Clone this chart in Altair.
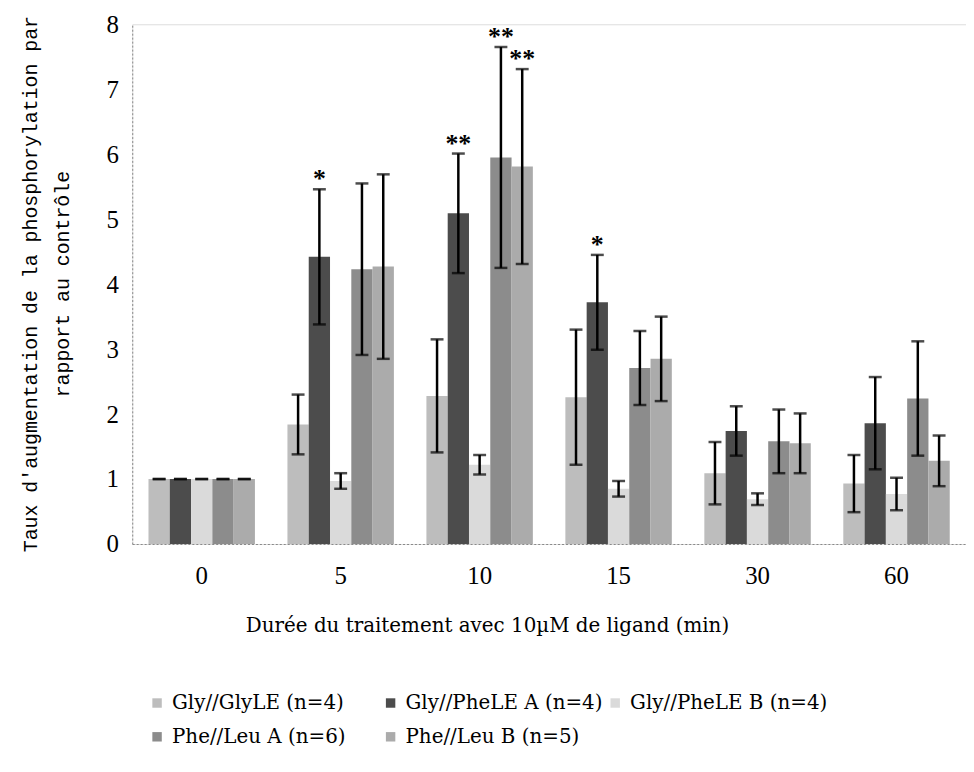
import altair as alt
import pandas as pd

times = ["0", "5", "10", "15", "30", "60"]
series = ["Gly//GlyLE (n=4)", "Gly//PheLE A (n=4)", "Gly//PheLE B (n=4)",
          "Phe//Leu A (n=6)", "Phe//Leu B (n=5)"]
colors = ["#bdbdbd", "#4c4c4c", "#dadada", "#8c8c8c", "#ababab"]

mean_glygly = [1.0, 1.84, 2.28, 2.26, 1.09, 0.93]
mean_phe_a = [1.0, 4.42, 5.09, 3.72, 1.74, 1.86]
mean_phe_b = [1.0, 0.97, 1.22, 0.85, 0.69, 0.77]
mean_leu_a = [1.0, 4.23, 5.95, 2.71, 1.58, 2.24]
mean_leu_b = [1.0, 4.27, 5.81, 2.85, 1.55, 1.28]

sd_glygly = [0.0, 0.46, 0.87, 1.04, 0.48, 0.44]
sd_phe_a = [0.0, 1.04, 0.92, 0.73, 0.38, 0.71]
sd_phe_b = [0.0, 0.12, 0.15, 0.12, 0.09, 0.25]
sd_leu_a = [0.0, 1.32, 1.70, 0.57, 0.49, 0.88]
sd_leu_b = [0.0, 1.42, 1.50, 0.65, 0.46, 0.39]

star_time = ["5", "10", "10", "10", "15"]
star_series = ["Gly//PheLE A (n=4)", "Gly//PheLE A (n=4)", "Phe//Leu A (n=6)",
               "Phe//Leu B (n=5)", "Gly//PheLE A (n=4)"]
star_text = ["*", "**", "**", "**", "*"]

means = [mean_glygly, mean_phe_a, mean_phe_b, mean_leu_a, mean_leu_b]
sds = [sd_glygly, sd_phe_a, sd_phe_b, sd_leu_a, sd_leu_b]

rows = []
for s, m, e in zip(series, means, sds):
    for t, mv, ev in zip(times, m, e):
        rows.append(dict(time=t, series=s, mean=mv, lo=mv - ev, hi=mv + ev))
df = pd.DataFrame(rows)

srows = []
for t, s, txt in zip(star_time, star_series, star_text):
    hi = df[(df.time == t) & (df.series == s)].hi.iloc[0]
    srows.append(dict(time=t, series=s, hi=hi, star=txt))
sdf = pd.DataFrame(srows)

SERIF = "Liberation Serif"
WIDE = "DejaVu Serif"
MONO = "Liberation Mono"

xenc = alt.X("time:N", scale=alt.Scale(domain=times, paddingInner=0.234, paddingOuter=0.117),
             axis=alt.Axis(title="Durée du traitement avec 10µM de ligand (min)",
                           labelAngle=0, labelFont=SERIF, labelFontSize=25, labelColor="black",
                           labelPadding=20, ticks=False, domainDash=[2, 2], domainColor="#888",
                           titleFont=WIDE, titleFontSize=20, titleFontWeight="normal",
                           titleColor="black", titleX=357, titleY=82, titleAlign="center",
                           titleBaseline="middle"))
xoff = alt.XOffset("series:N", scale=alt.Scale(domain=series, paddingInner=0, paddingOuter=0))
yscale = alt.Scale(domain=[0, 8], nice=False)

pad_expr = ("indexof(['Gly//GlyLE (n=4)', 'Phe//Leu A (n=6)'], datum.value) >= 0 "
            "? datum.label + '\u2003\u00a0\u00a0\u200b' : datum.label")

bars = alt.Chart(df).mark_bar().encode(
    x=xenc,
    xOffset=xoff,
    y=alt.Y("mean:Q", scale=yscale,
            axis=alt.Axis(title=["Taux d'augmentation de la phosphorylation par", "rapport au contrôle"],
                          values=list(range(9)), format="d", grid=False, ticks=False, labelPadding=14,
                          labelFont=SERIF, labelFontSize=25, labelColor="black",
                          domainDash=[2, 2], domainColor="#888",
                          titleFont=MONO, titleFontSize=20, titleFontWeight="normal",
                          titleColor="black", titleAngle=-90, titleX=-102, titleY=261,
                          titleAlign="center", titleBaseline="middle", titleLineHeight=32)),
    color=alt.Color("series:N", scale=alt.Scale(domain=series, range=colors),
                    legend=alt.Legend(title=None, orient="none", legendX=15, legendY=673,
                                      direction="horizontal", columns=3, columnPadding=2,
                                      rowPadding=14, gridAlign="each", labelExpr=pad_expr,
                                      symbolType="square", symbolSize=90, symbolStrokeWidth=0,
                                      labelFont=WIDE, labelFontSize=20, labelColor="black",
                                      labelOffset=5, padding=0, labelLimit=400)),
)

rules = alt.Chart(df).mark_rule(color="black", strokeWidth=2.5).encode(
    x=alt.X("time:N"), xOffset=xoff, y=alt.Y("lo:Q", scale=yscale), y2="hi:Q")
cap_hi = alt.Chart(df).mark_tick(color="black", thickness=2.5, size=13).encode(
    x=alt.X("time:N"), xOffset=xoff, y=alt.Y("hi:Q", scale=yscale))
cap_lo = alt.Chart(df).mark_tick(color="black", thickness=2.5, size=13).encode(
    x=alt.X("time:N"), xOffset=xoff, y=alt.Y("lo:Q", scale=yscale))
stars = alt.Chart(sdf).mark_text(font=SERIF, fontSize=26, fontWeight="bold", baseline="alphabetic",
                                 dy=-2, color="black").encode(
    x=alt.X("time:N"), xOffset=xoff, y=alt.Y("hi:Q", scale=yscale), text="star:N")

chart = alt.layer(bars, rules, cap_hi, cap_lo, stars).properties(
    width=839, height=523,
    autosize=alt.AutoSizeParams(type="none"),
    padding={"left": 125, "top": 14, "right": 0, "bottom": 219},
).configure_view(stroke=None).configure(background="white", font=SERIF)

chart.save("out.html", embed_options={"renderer": "svg", "actions": False})
